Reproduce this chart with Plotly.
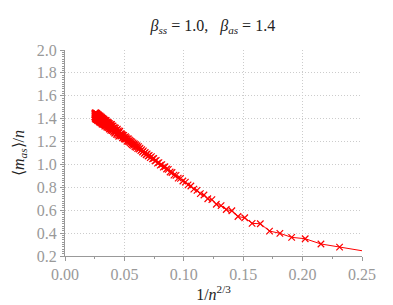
import plotly.graph_objects as go

# system sizes n (x axis is 1/n^(2/3))
n_values = [
    8, 9, 10, 11, 12, 13, 14, 15, 16, 17, 18, 19, 20, 21, 22, 23, 24, 25, 26, 27,
    28, 29, 30, 31, 32, 33, 34, 35, 36, 37, 38, 39, 40, 41, 42, 43, 44, 45, 46, 47,
    48, 49, 50, 51, 52, 53, 54, 55, 56, 57, 58, 59, 60, 61, 62, 63, 64, 65, 66, 67,
    68, 69, 70, 71, 72, 73, 74, 75, 76, 77, 78, 79, 80, 81, 82, 83, 84, 85, 86, 87,
    88, 89, 90, 91, 92, 93, 94, 95, 96, 97, 98, 99, 100, 101, 102, 103, 104, 105, 106, 107,
    108, 109, 110, 111, 112, 113, 114, 115, 116, 117, 118, 119, 120, 121, 122, 123, 124, 125, 126, 127,
    128, 129, 130, 131, 132, 133, 134, 135, 136, 137, 138, 139, 140, 141, 142, 143, 144, 145, 146, 147,
    148, 149, 150, 151, 152, 153, 154, 155, 156, 157, 158, 159, 160, 161, 162, 163, 164, 165, 166, 167,
    168, 169, 170, 171, 172, 173, 174, 175, 176, 177, 178, 179, 180, 181, 182, 183, 184, 185, 186, 187,
    188, 189, 190, 191, 192, 193, 194, 195, 196, 197, 198, 199, 200, 201, 202, 203, 204, 205, 206, 207,
    208, 209, 210, 211, 212, 213, 214, 215, 216, 217, 218, 219, 220, 221, 222, 223, 224, 225, 226, 227,
    228, 229, 230, 231, 232, 233, 234, 235, 236, 237, 238, 239, 240, 241, 242, 243, 244, 245, 246, 247,
    248, 249, 250, 251, 252,
]

# <m_as>/n for each n
m_as_per_n = [
    0.246, 0.278, 0.305, 0.351, 0.363, 0.398, 0.418, 0.482, 0.485, 0.534,
    0.545, 0.595, 0.606, 0.640, 0.652, 0.692, 0.700, 0.733, 0.745, 0.774,
    0.785, 0.812, 0.822, 0.846, 0.855, 0.878, 0.881, 0.905, 0.906, 0.930,
    0.934, 0.957, 0.960, 0.980, 0.977, 0.998, 0.994, 1.016, 1.012, 1.035,
    1.031, 1.052, 1.049, 1.068, 1.060, 1.079, 1.074, 1.093, 1.085, 1.104,
    1.097, 1.118, 1.109, 1.130, 1.121, 1.142, 1.134, 1.156, 1.138, 1.163,
    1.150, 1.172, 1.155, 1.181, 1.166, 1.188, 1.172, 1.197, 1.181, 1.204,
    1.190, 1.213, 1.199, 1.224, 1.202, 1.223, 1.204, 1.232, 1.221, 1.242,
    1.221, 1.236, 1.224, 1.254, 1.236, 1.253, 1.234, 1.262, 1.252, 1.269,
    1.248, 1.267, 1.256, 1.290, 1.254, 1.277, 1.246, 1.293, 1.280, 1.258,
    1.308, 1.274, 1.299, 1.263, 1.298, 1.287, 1.317, 1.277, 1.299, 1.274,
    1.321, 1.293, 1.320, 1.285, 1.315, 1.336, 1.299, 1.312, 1.295, 1.334,
    1.312, 1.349, 1.307, 1.328, 1.297, 1.338, 1.350, 1.311, 1.333, 1.322,
    1.357, 1.310, 1.345, 1.334, 1.359, 1.324, 1.368, 1.337, 1.322, 1.360,
    1.335, 1.370, 1.349, 1.369, 1.327, 1.361, 1.342, 1.384, 1.352, 1.372,
    1.337, 1.361, 1.384, 1.345, 1.373, 1.335, 1.384, 1.358, 1.372, 1.346,
    1.396, 1.357, 1.383, 1.369, 1.394, 1.350, 1.384, 1.358, 1.403, 1.369,
    1.396, 1.353, 1.386, 1.367, 1.406, 1.355, 1.393, 1.379, 1.413, 1.367,
    1.401, 1.387, 1.407, 1.364, 1.396, 1.415, 1.380, 1.396, 1.371, 1.423,
    1.386, 1.413, 1.378, 1.405, 1.371, 1.419, 1.395, 1.412, 1.380, 1.428,
    1.389, 1.405, 1.425, 1.381, 1.416, 1.399, 1.434, 1.392, 1.414, 1.433,
    1.392, 1.416, 1.383, 1.427, 1.408, 1.440, 1.401, 1.425, 1.392, 1.435,
    1.415, 1.446, 1.401, 1.425, 1.393, 1.432, 1.410, 1.443, 1.399, 1.424,
    1.450, 1.407, 1.440, 1.396, 1.433, 1.418, 1.451, 1.406, 1.438, 1.402,
    1.444, 1.418, 1.449, 1.416, 1.434,
]

x_vals = [1.0 / (n ** (2.0 / 3.0)) for n in n_values]

x_ticks = [0.00, 0.05, 0.10, 0.15, 0.20, 0.25]
x_tick_text = ["0.00", "0.05", "0.10", "0.15", "0.20", "0.25"]
y_ticks = [0.2, 0.4, 0.6, 0.8, 1.0, 1.2, 1.4, 1.6, 1.8, 2.0]
y_tick_text = ["0.2", "0.4", "0.6", "0.8", "1.0", "1.2", "1.4", "1.6", "1.8", "2.0"]

RED = "#ff0000"
GRAY = "#999999"
SERIF = "Liberation Serif"

fig = go.Figure()
fig.add_trace(go.Scatter(
    x=x_vals, y=m_as_per_n,
    mode="lines+markers",
    line=dict(color=RED, width=1),
    marker=dict(symbol="x-thin", size=6.5, color=RED, line=dict(color=RED, width=1.2)),
    cliponaxis=False,
    showlegend=False,
))

fig.update_layout(
    width=385, height=297,
    margin=dict(l=57, r=31, t=42, b=49, autoexpand=False),
    paper_bgcolor="white", plot_bgcolor="white",
    font=dict(family=SERIF),
    title=dict(
        text="<i>β</i><sub><i>ss</i></sub> = 1.0,   <i>β</i><sub><i>as</i></sub> = 1.4",
        x=0.532, xanchor="center", y=0.943, yanchor="middle",
        font=dict(family=SERIF, size=16, color="#222222"),
    ),
    xaxis=dict(
        range=[0, 0.25], automargin=False,
        tickvals=x_ticks, ticktext=x_tick_text,
        showgrid=True, gridcolor="#cccccc", griddash="1px,2px", gridwidth=1,
        showline=True, linecolor=GRAY, linewidth=1,
        ticks="outside", ticklen=4, tickcolor=GRAY,
        minor=dict(dtick=0.025, ticks="outside", ticklen=2, tickcolor=GRAY, showgrid=False),
        tickfont=dict(family=SERIF, size=16, color=GRAY),
        zeroline=False,
        title=dict(text="1/<i>n</i><sup>2/3</sup>", font=dict(family=SERIF, size=16, color="#222222"), standoff=3),
    ),
    yaxis=dict(
        range=[0.2, 2.0], automargin=False,
        tickvals=y_ticks, ticktext=y_tick_text,
        showgrid=True, gridcolor="#cccccc", griddash="1px,2px", gridwidth=1,
        showline=True, linecolor=GRAY, linewidth=1,
        ticks="outside", ticklen=4, tickcolor=GRAY,
        minor=dict(dtick=0.02, ticks="outside", ticklen=2, tickcolor=GRAY, showgrid=False),
        tickfont=dict(family=SERIF, size=16, color=GRAY),
        zeroline=False,
        title=dict(text="⟨<i>m</i><sub><i>as</i></sub>⟩/<i>n</i>", font=dict(family=SERIF, size=16, color="#222222"), standoff=8),
    ),
)

fig.write_html("out.html")
